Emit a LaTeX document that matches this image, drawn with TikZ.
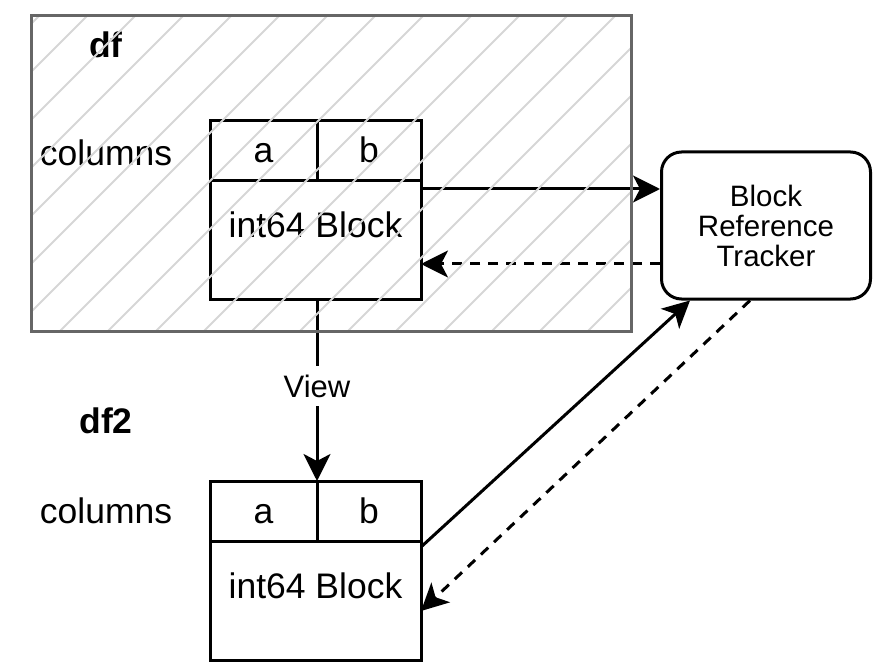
\documentclass[tikz,border=0pt]{standalone}
\usepackage{fontspec}
\setmainfont{Liberation Sans}
\usetikzlibrary{arrows.meta}
\begin{document}
\begin{tikzpicture}[x=1pt,y=-1pt,
  cell/.style={draw=black,line width=3pt,inner sep=0pt,outer sep=0pt},
  lbl/.style={inner sep=0pt,anchor=base,font=\fontsize{35.5}{40}\selectfont},
  blbl/.style={inner sep=0pt,anchor=base,font=\fontsize{35.5}{40}\selectfont\bfseries},
  conn/.style={line width=3pt,-{Stealth[length=27pt,width=27pt,inset=7pt]}},
  dconn/.style={conn,dash pattern=on 10pt off 8pt},
  hatch/.style={draw=black!16,line width=2pt},
  frameline/.style={draw=black!60,line width=3pt}]
\useasboundingbox (0,0) rectangle (873,663);

% top table
\node[cell,minimum width=107pt,minimum height=60pt] (ta) at (263.5,151) {};
\node[cell,minimum width=104pt,minimum height=60pt] (tb) at (369,151) {};
\node[cell,minimum width=211pt,minimum height=118pt] (tblk) at (315.5,240) {};
\node[lbl] (tat) at (263.5,163) {a};
\node[lbl] (tbt) at (369,163) {b};
\node[lbl] (tblkt) at (315.5,238) {int64 Block};
\node[blbl] (df) at (106,58) {df};
\node[lbl] (tcol) at (106,166) {columns};

% bottom table
\node[cell,minimum width=107pt,minimum height=60pt] (ba) at (263.5,511) {};
\node[cell,minimum width=104pt,minimum height=60pt] (bb) at (369,511) {};
\node[cell,minimum width=211pt,minimum height=119pt] (bblk) at (315.5,600.5) {};
\node[lbl] (bat) at (263.5,523) {a};
\node[lbl] (bbt) at (369,523) {b};
\node[lbl] (bblkt) at (315.5,598) {int64 Block};
\node[blbl] (df2) at (106,433) {df2};
\node[lbl] (bcol) at (106,523) {columns};

% tracker
\node[draw=black,line width=3pt,rounded corners=20pt,minimum width=209pt,minimum height=147pt,
      align=center,inner sep=0pt,font=\fontsize{29.5}{30}\selectfont] (trk) at (766,225.5)
      {Block\\Reference\\Tracker};

% connectors
\draw[conn] ([yshift=51pt]tblk.east) -- ([yshift=36.5pt]trk.west);
\draw[dconn] ([yshift=-38.5pt]trk.west) -- ([yshift=-24pt]tblk.east);
\draw[conn] (tblk.south -| ba.north east) -- (ba.north east)
  node[pos=0.478,fill=white,inner xsep=2pt,inner ysep=9pt,font=\fontsize{31}{34}\selectfont] (view) {View};
\draw[conn] ([yshift=-6pt]bblk.north east) -- ([xshift=-76pt]trk.south);
\draw[dconn] ([xshift=-16pt]trk.south) -- ([yshift=-10.5pt]bblk.east);

% df frame with hatching on top
\node[inner sep=0pt,outer sep=0pt,minimum width=600pt,minimum height=315pt] (frame) at (331,173.5) {};
\begin{scope}
  \clip (frame.north west) rectangle (frame.south east);
  \foreach \c in {55,103,...,967} \draw[hatch] (\c-400,400) -- (\c,0);
\end{scope}
\draw[frameline] (frame.north west) rectangle (frame.south east);
\end{tikzpicture}
\end{document}
